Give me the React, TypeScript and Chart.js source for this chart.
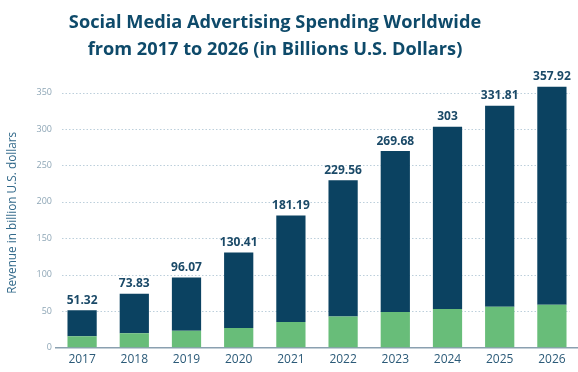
import React, { useEffect, useRef } from "react";
import { Chart, registerables } from "chart.js";

Chart.register(...registerables);

const years = ["2017", "2018", "2019", "2020", "2021", "2022", "2023", "2024", "2025", "2026"];
const totals = [51.32, 73.83, 96.07, 130.41, 181.19, 229.56, 269.68, 303, 331.81, 357.92];
const greenPart = [15.7, 19.8, 23, 27, 35.3, 42.6, 49, 53, 56, 58.7];
const darkPart = totals.map((t, i) => +(t - greenPart[i]).toFixed(2));
const totalLabels = ["51.32", "73.83", "96.07", "130.41", "181.19", "229.56", "269.68", "303", "331.81", "357.92"];
const titleLines = ["Social Media Advertising Spending Worldwide", "from 2017 to 2026 (in Billions U.S. Dollars)"];
const yTitle = "Revenue in billion U.S. dollars";

const FONT = "'Open Sans', sans-serif";

const gridPlugin = {
  id: "dottedGrid",
  beforeDatasetsDraw(chart: any) {
    const y = chart.scales.y;
    const { left, right } = chart.chartArea;
    const ctx = chart.ctx;
    ctx.save();
    ctx.strokeStyle = "#bccfdb";
    ctx.lineWidth = 1;
    ctx.setLineDash([1.5, 2]);
    y.ticks.forEach((t: any) => {
      if (t.value === 0) return;
      const py = Math.round(y.getPixelForValue(t.value)) + 0.5;
      ctx.beginPath();
      ctx.moveTo(left + 6, py);
      ctx.lineTo(right - 8, py);
      ctx.stroke();
    });
    ctx.restore();
  },
};

const labelPlugin = {
  id: "totalLabels",
  afterDatasetsDraw(chart: any) {
    const meta = chart.getDatasetMeta(1);
    const ctx = chart.ctx;
    ctx.save();
    ctx.font = `bold 12px ${FONT}`;
    ctx.fillStyle = "#1b4a68";
    ctx.textAlign = "center";
    ctx.textBaseline = "bottom";
    meta.data.forEach((el: any, i: number) => {
      ctx.fillText(totalLabels[i], el.x, el.y - 4);
    });
    ctx.restore();
  },
};

export default function App() {
  const ref = useRef<HTMLCanvasElement>(null);
  useEffect(() => {
    document.body.style.margin = "0";
    const chart = new Chart(ref.current!, {
      type: "bar",
      data: {
        labels: years,
        datasets: [
          {
            label: "green",
            data: greenPart,
            backgroundColor: "#68bd79",
            barPercentage: 0.56,
            categoryPercentage: 1,
          },
          {
            label: "dark",
            data: darkPart,
            backgroundColor: "#0b4261",
            barPercentage: 0.56,
            categoryPercentage: 1,
          },
        ],
      },
      options: {
        responsive: false,
        animation: false,
        layout: { padding: { top: 78, right: 0, left: 6, bottom: 0 } },
        plugins: {
          legend: { display: false },
          tooltip: { enabled: false },
          title: { display: false },
        },
        scales: {
          x: {
            stacked: true,
            grid: { display: false, drawTicks: false },
            border: { display: true, color: "#8aa0b0", width: 1.5 },
            ticks: { color: "#2b5a78", font: { family: FONT, size: 12 }, padding: 5 },
          },
          y: {
            stacked: true,
            min: 0,
            max: 370,
            afterBuildTicks: (scale: any) => {
              scale.ticks = scale.ticks.filter((t: any) => t.value % 50 === 0);
            },
            afterFit: (scale: any) => {
              scale.width = 50;
            },
            ticks: { stepSize: 50, color: "#8ea6b6", font: { family: FONT, size: 9 }, padding: 4 },
            grid: { display: false, drawTicks: false },
            border: { display: false },
            title: {
              display: true,
              text: yTitle,
              color: "#336a8b",
              font: { family: FONT, size: 11.8 },
              padding: { top: 0, bottom: 6 },
            },
          },
        },
      },
      plugins: [gridPlugin, labelPlugin],
    });
    return () => chart.destroy();
  }, []);
  return (
    <div style={{ position: "relative", width: 578, height: 372, background: "#fff" }}>
      <canvas ref={ref} width={578} height={372} style={{ position: "absolute", left: 0, top: 0 }} />
      <div
        style={{
          position: "absolute",
          left: 0,
          top: 8,
          width: 550,
          textAlign: "center",
          fontFamily: FONT,
          fontWeight: 700,
          fontSize: 18.2,
          lineHeight: "27px",
          color: "#0e4a6a",
        }}
      >
        {titleLines.map((l) => (
          <div key={l}>{l}</div>
        ))}
      </div>
    </div>
  );
}
